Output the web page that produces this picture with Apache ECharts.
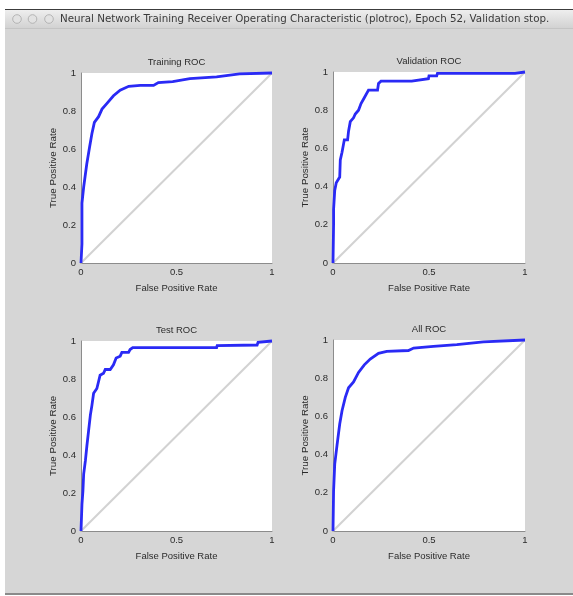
<!DOCTYPE html>
<html>
<head>
<meta charset="utf-8">
<script src="https://cdn.jsdelivr.net/npm/echarts@6/dist/echarts.min.js"></script>
<style>
html,body{margin:0;padding:0;background:#ffffff;}
#chart{width:573px;height:596px;}
</style>
</head>
<body>
<div id="chart"></div>
<script>
// ---- text ----
const windowTitle = "Neural Network Training Receiver Operating Characteristic (plotroc), Epoch 52, Validation stop.";
const panelTitles = ["Training ROC", "Validation ROC", "Test ROC", "All ROC"];
const xAxisName = "False Positive Rate";
const yAxisName = "True Positive Rate";
const xTickLabels = ["0", "0.5", "1"];
const yTickLabels = ["0", "0.2", "0.4", "0.6", "0.8", "1"];

// ---- reference (random guess) line ----
const diagFpr = [0, 1];
const diagTpr = [0, 1];

// ---- ROC curves ----
const trainingFpr = [0, 0.005, 0.005, 0.014, 0.03, 0.045, 0.057, 0.07, 0.092, 0.11, 0.136, 0.17, 0.205, 0.25, 0.31, 0.38, 0.405, 0.48, 0.57, 0.71, 0.83, 1];
const trainingTpr = [0, 0.1, 0.315, 0.40, 0.52, 0.61, 0.68, 0.74, 0.77, 0.81, 0.84, 0.88, 0.91, 0.93, 0.935, 0.935, 0.95, 0.955, 0.97, 0.98, 0.995, 1];

const validationFpr = [0, 0.003, 0.003, 0.009, 0.017, 0.035, 0.038, 0.047, 0.059, 0.076, 0.081, 0.09, 0.107, 0.116, 0.133, 0.146, 0.163, 0.185, 0.232, 0.237, 0.25, 0.41, 0.42, 0.497, 0.50, 0.54, 0.544, 0.948, 0.953, 1];
const validationTpr = [0, 0.2, 0.28, 0.38, 0.42, 0.45, 0.54, 0.58, 0.645, 0.645, 0.69, 0.74, 0.76, 0.78, 0.80, 0.835, 0.865, 0.905, 0.905, 0.94, 0.952, 0.952, 0.96, 0.965, 0.98, 0.98, 0.993, 0.993, 1, 1];

const testFpr = [0, 0.005, 0.01, 0.014, 0.023, 0.031, 0.04, 0.049, 0.057, 0.066, 0.083, 0.092, 0.10, 0.118, 0.127, 0.153, 0.17, 0.184, 0.205, 0.214, 0.249, 0.257, 0.271, 0.71, 0.713, 0.922, 0.927, 1];
const testTpr = [0, 0.14, 0.21, 0.30, 0.37, 0.45, 0.53, 0.61, 0.66, 0.725, 0.75, 0.787, 0.82, 0.83, 0.85, 0.85, 0.875, 0.91, 0.92, 0.94, 0.94, 0.955, 0.965, 0.965, 0.976, 0.979, 0.993, 1];

const allFpr = [0, 0.003, 0.009, 0.021, 0.035, 0.047, 0.064, 0.081, 0.107, 0.133, 0.163, 0.194, 0.237, 0.28, 0.393, 0.42, 0.523, 0.645, 0.783, 1];
const allTpr = [0, 0.21, 0.35, 0.45, 0.56, 0.63, 0.70, 0.75, 0.78, 0.83, 0.87, 0.90, 0.93, 0.94, 0.945, 0.958, 0.967, 0.976, 0.99, 1];

const curves = [
  [trainingFpr, trainingTpr],
  [validationFpr, validationTpr],
  [testFpr, testTpr],
  [allFpr, allTpr]
];

// ---- layout ----
const grids = [
  {left: 81, top: 73, width: 191, height: 190},
  {left: 333, top: 72, width: 192, height: 191},
  {left: 81, top: 341, width: 191, height: 190},
  {left: 333, top: 340, width: 192, height: 191}
];

const pair = (xs, ys) => xs.map((x, i) => [x, ys[i]]);
const axisFont = "Liberation Sans, Arial, sans-serif";
const textColor = "#2b2b2b";

const option = {
  animation: false,
  backgroundColor: "#ffffff",
  graphic: [
    {type: "rect", z: -100, shape: {x: 5, y: 9, width: 568, height: 586}, style: {fill: "#d6d6d6"}},
    {type: "rect", z: -99, shape: {x: 5, y: 9, width: 568, height: 1}, style: {fill: "#3c3c3c"}},
    {type: "rect", z: -99, shape: {x: 5, y: 10, width: 568, height: 18},
      style: {fill: new echarts.graphic.LinearGradient(0, 0, 0, 1, [
        {offset: 0, color: "#eeeeee"}, {offset: 1, color: "#d2d2d2"}])}},
    {type: "rect", z: -99, shape: {x: 5, y: 28, width: 568, height: 1}, style: {fill: "#c4c4c4"}},
    {type: "rect", z: -99, shape: {x: 5, y: 593, width: 568, height: 2}, style: {fill: "#8a8a8a"}},
    {type: "circle", z: -98, shape: {cx: 17, cy: 19, r: 4.3}, style: {fill: "#e2e2e2", stroke: "#a8a8a8", lineWidth: 0.8}},
    {type: "circle", z: -98, shape: {cx: 32.5, cy: 19, r: 4.3}, style: {fill: "#e2e2e2", stroke: "#a8a8a8", lineWidth: 0.8}},
    {type: "circle", z: -98, shape: {cx: 49, cy: 19, r: 4.3}, style: {fill: "#e2e2e2", stroke: "#a8a8a8", lineWidth: 0.8}},
    {type: "text", z: -97, x: 60, y: 19,
      style: {text: windowTitle, fill: "#3a3a3a", font: "10.3px 'DejaVu Sans', sans-serif", verticalAlign: "middle", align: "left"}}
  ],
  title: grids.map((g, i) => ({
    text: panelTitles[i],
    left: g.left + g.width / 2,
    top: g.top - 16,
    textAlign: "center",
    padding: 0,
    textStyle: {fontSize: 9.5, fontWeight: "normal", color: textColor, fontFamily: axisFont}
  })),
  grid: grids.map(g => ({
    left: g.left, top: g.top, width: g.width, height: g.height,
    show: true, backgroundColor: "#ffffff", borderWidth: 0, containLabel: false
  })),
  xAxis: grids.map((g, i) => ({
    type: "value", gridIndex: i, min: 0, max: 1, interval: 0.5,
    name: xAxisName, nameLocation: "middle", nameGap: 20,
    nameTextStyle: {fontSize: 9.5, color: textColor, fontFamily: axisFont},
    axisLine: {show: true, lineStyle: {color: "#8c8c8c", width: 1}},
    axisTick: {show: false},
    splitLine: {show: false},
    axisLabel: {fontSize: 9.5, color: textColor, fontFamily: axisFont, margin: 4,
      formatter: v => xTickLabels[Math.round(v * 2)]}
  })),
  yAxis: grids.map((g, i) => ({
    type: "value", gridIndex: i, min: 0, max: 1, interval: 0.2,
    name: yAxisName, nameLocation: "middle", nameGap: 23, nameRotate: 90,
    nameTextStyle: {fontSize: 9.8, color: textColor, fontFamily: axisFont},
    axisLine: {show: true, lineStyle: {color: "#8c8c8c", width: 1}},
    axisTick: {show: false},
    splitLine: {show: false},
    axisLabel: {fontSize: 9.5, color: textColor, fontFamily: axisFont, margin: 5,
      formatter: v => yTickLabels[Math.round(v * 5)]}
  })),
  series: []
};

grids.forEach((g, i) => {
  option.series.push({
    type: "line", xAxisIndex: i, yAxisIndex: i, data: pair(diagFpr, diagTpr),
    symbol: "none", silent: true, z: 2,
    lineStyle: {color: "#d2d2d2", width: 2}
  });
  option.series.push({
    type: "line", xAxisIndex: i, yAxisIndex: i, data: pair(curves[i][0], curves[i][1]),
    symbol: "none", silent: true, clip: false, z: 3,
    lineStyle: {color: "#2a2af5", width: 2.8, join: "miter"}
  });
});

const chart = echarts.init(document.getElementById("chart"), null, {renderer: "canvas"});
chart.setOption(option);
</script>
</body>
</html>
